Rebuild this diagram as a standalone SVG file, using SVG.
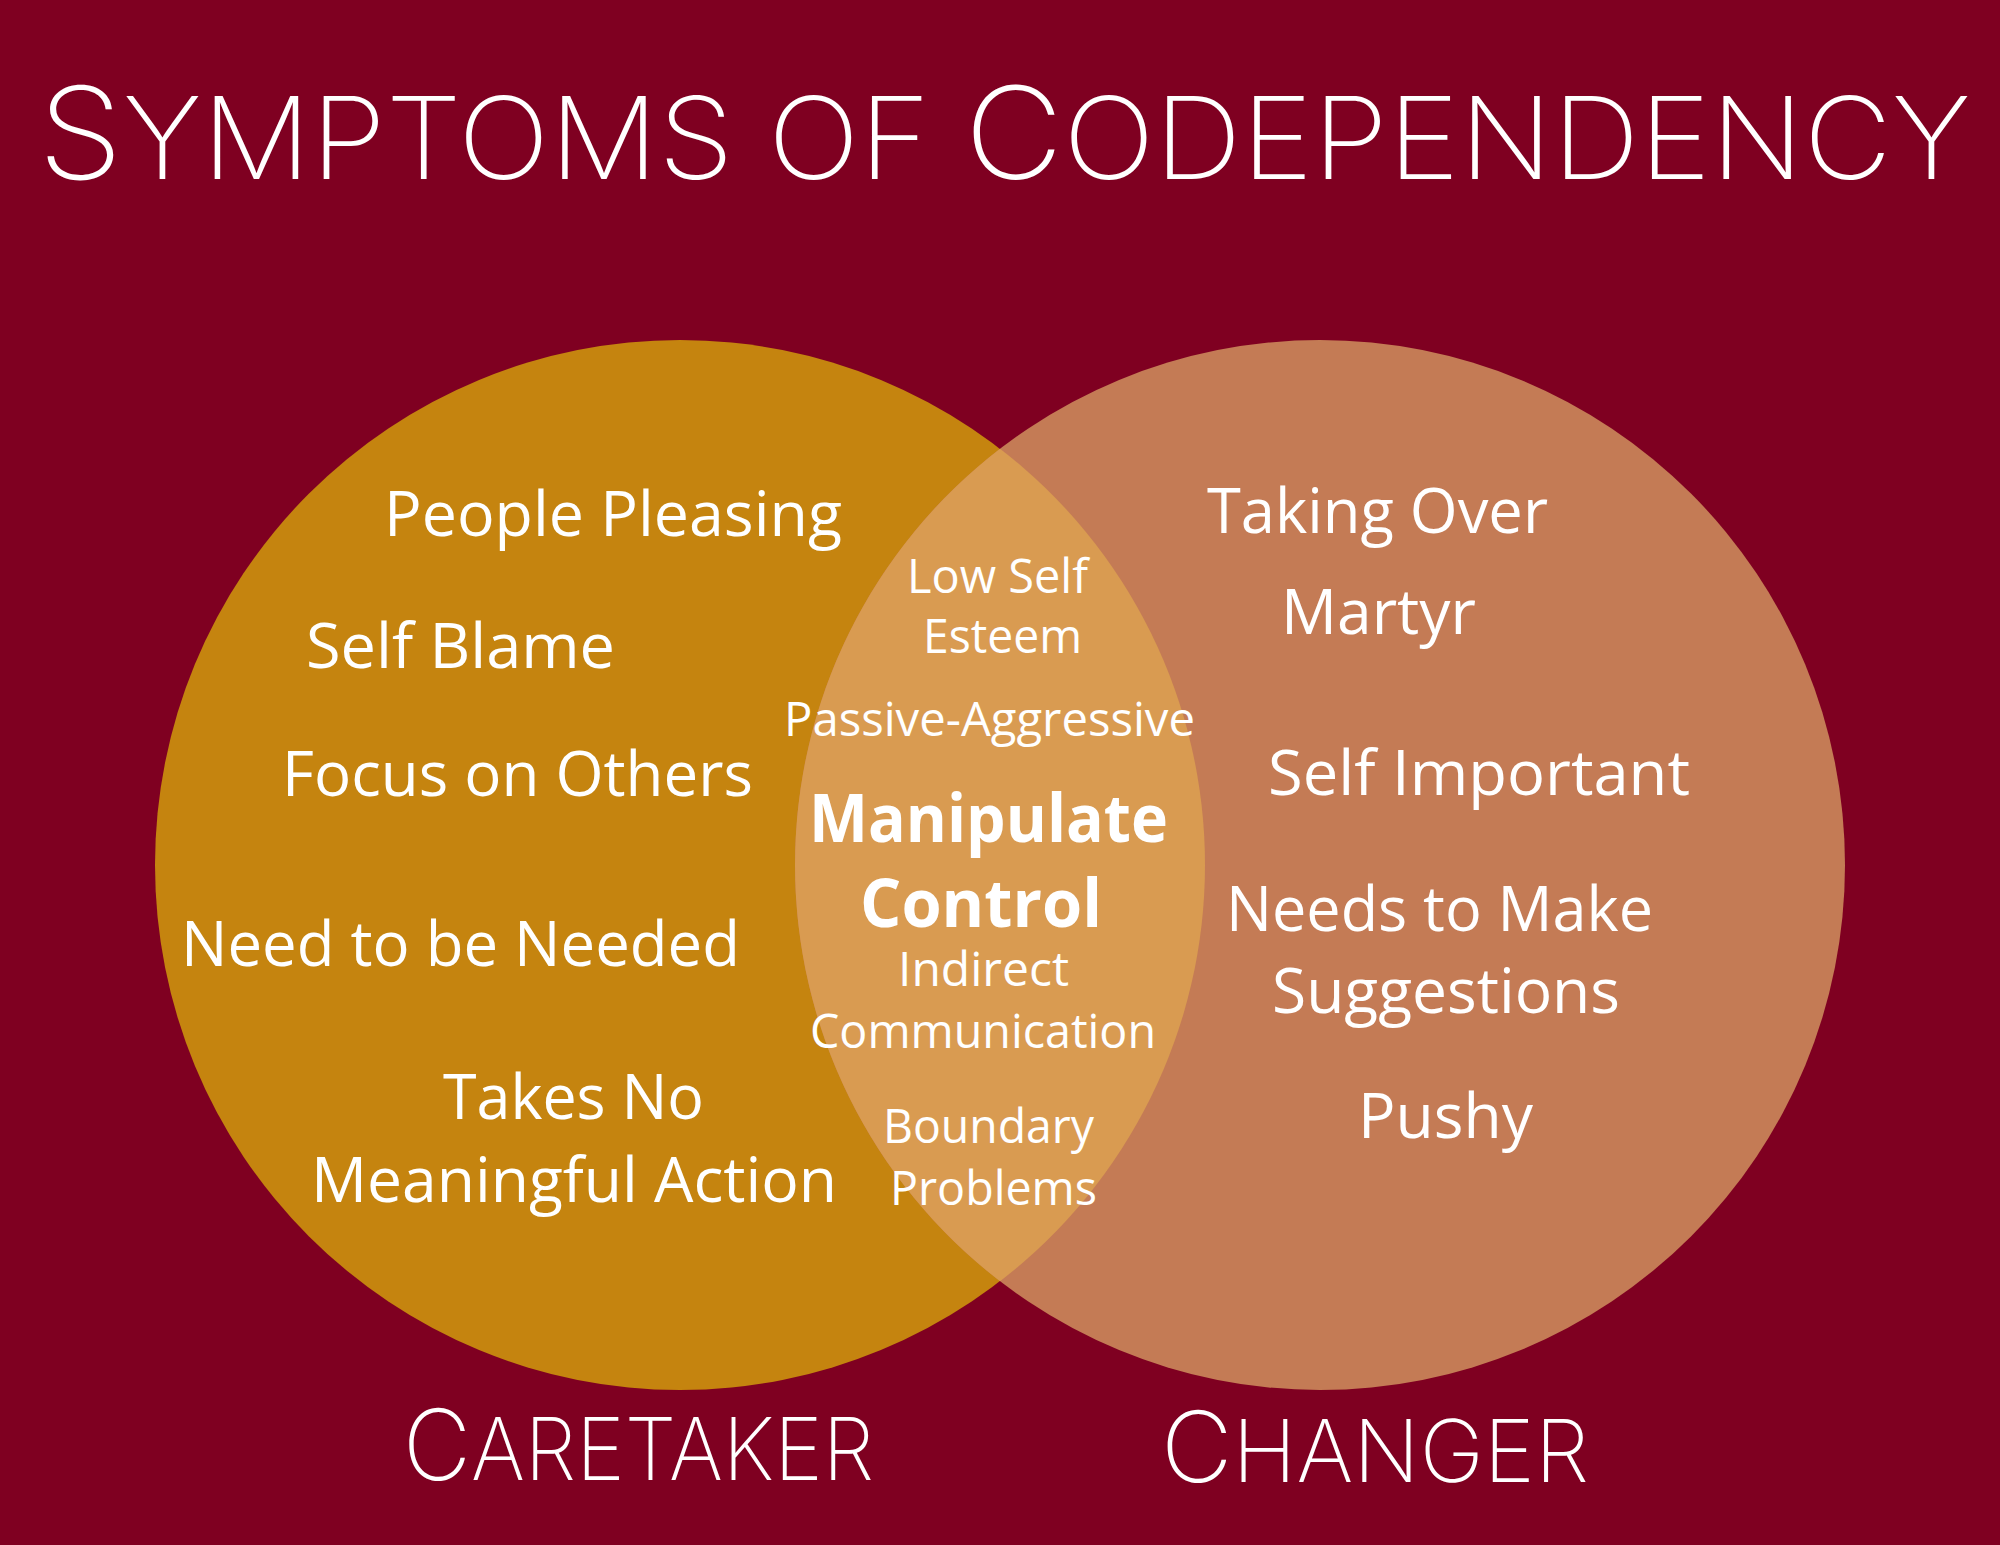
<svg xmlns="http://www.w3.org/2000/svg" width="2000" height="1545" viewBox="0 0 2000 1545">
<style>
.t{font-family:"Open Sans","Noto Sans",sans-serif;fill:#fff;font-size:62px}
.c{font-family:"Open Sans","Noto Sans",sans-serif;fill:#fff;font-size:47px}
.b{font-family:"Open Sans","Noto Sans",sans-serif;fill:#fff;font-size:66px;font-weight:700}
.h{font-family:Inter,Lato,"Noto Sans",sans-serif;fill:#fff;font-weight:200}
</style>
<rect width="2000" height="1545" fill="#7f0021"/>
<g id="title">
<text class="h" x="38" y="179" textLength="1933" lengthAdjust="spacingAndGlyphs"><tspan font-size="128">S</tspan><tspan font-size="114">YMPTOMS OF </tspan><tspan font-size="128">C</tspan><tspan font-size="114">ODEPENDENCY</tspan></text>
</g>
<g id="caretaker">
<circle cx="680" cy="865" r="525" fill="#c5840f"/>
</g>
<g id="changer">
<circle cx="1320" cy="865" r="525" fill="#c47b55"/>
</g>
<g id="overlap">
<path d="M1000,448.8 A525,525 0 0,1 1000,1281.2 A525,525 0 0,1 1000,448.8 Z" fill="#d99b51"/>
</g>
<g id="connectors"></g>
<g id="caretaker-items">
<text class="t" x="384" y="536" textLength="458" lengthAdjust="spacingAndGlyphs">People Pleasing</text>
<text class="t" x="306" y="668" textLength="309" lengthAdjust="spacingAndGlyphs">Self Blame</text>
<text class="t" x="282" y="796" font-size="55" textLength="471" lengthAdjust="spacingAndGlyphs">Focus on Others</text>
<text class="t" x="181" y="966" textLength="559" lengthAdjust="spacingAndGlyphs">Need to be Needed</text>
<text class="t" x="443" y="1119" textLength="261" lengthAdjust="spacingAndGlyphs">Takes No</text>
<text class="t" x="311" y="1202" textLength="526" lengthAdjust="spacingAndGlyphs">Meaningful Action</text>
</g>
<g id="changer-items">
<text class="t" x="1207" y="533" textLength="341" lengthAdjust="spacingAndGlyphs">Taking Over</text>
<text class="t" x="1281" y="634" textLength="195" lengthAdjust="spacingAndGlyphs">Martyr</text>
<text class="t" x="1268" y="795" textLength="422" lengthAdjust="spacingAndGlyphs">Self Important</text>
<text class="t" x="1226" y="931" textLength="427" lengthAdjust="spacingAndGlyphs">Needs to Make</text>
<text class="t" x="1272" y="1013" textLength="348" lengthAdjust="spacingAndGlyphs">Suggestions</text>
<text class="t" x="1358" y="1138" textLength="175" lengthAdjust="spacingAndGlyphs">Pushy</text>
</g>
<g id="shared-items">
<text class="c" x="907" y="593" textLength="181" lengthAdjust="spacingAndGlyphs">Low Self</text>
<text class="c" x="923" y="653" textLength="159" lengthAdjust="spacingAndGlyphs">Esteem</text>
<text class="c" x="784" y="736" textLength="411" lengthAdjust="spacingAndGlyphs">Passive-Aggressive</text>
<text class="b" x="809" y="842" textLength="359" lengthAdjust="spacingAndGlyphs">Manipulate</text>
<text class="b" x="860" y="927" textLength="242" lengthAdjust="spacingAndGlyphs">Control</text>
<text class="c" x="898" y="986" textLength="171" lengthAdjust="spacingAndGlyphs">Indirect</text>
<text class="c" x="810" y="1048" textLength="346" lengthAdjust="spacingAndGlyphs">Communication</text>
<text class="c" x="883" y="1143" textLength="211" lengthAdjust="spacingAndGlyphs">Boundary</text>
<text class="c" x="890" y="1205" textLength="207" lengthAdjust="spacingAndGlyphs">Problems</text>
</g>
<g id="labels">
<text class="h" x="403" y="1480" textLength="471" lengthAdjust="spacingAndGlyphs"><tspan font-size="98">C</tspan><tspan font-size="86">ARETAKER</tspan></text>
<text class="h" x="1161" y="1482" textLength="428" lengthAdjust="spacingAndGlyphs"><tspan font-size="98">C</tspan><tspan font-size="86">HANGER</tspan></text>
</g>
</svg>
